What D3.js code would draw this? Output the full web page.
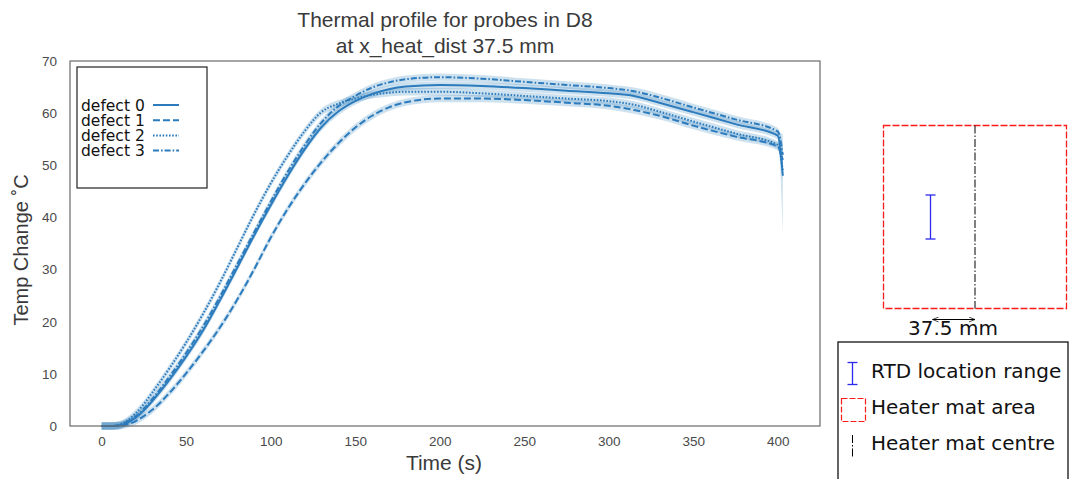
<!DOCTYPE html>
<html lang="en">
<head>
<meta charset="utf-8">
<title>Thermal profile</title>
<script src="https://d3js.org/d3.v7.min.js"></script>
<style>
  body { margin: 0; background: #fff; }
  svg { display: block; }
  .tick text { font-family: "Liberation Sans", Arial, sans-serif; font-size: 13.5px; fill: #4a4a4a; }
  .domain { display: none; }
  .tick line { display: none; }
  .dv { font-family: "DejaVu Sans", sans-serif; }
</style>
</head>
<body>
<div id="chart"></div>
<script>
// time points (s)
var times = [0,5,10,15,20,25,30,40,50,60,70,80,90,100,110,120,130,140,150,160,170,180,200,225,250,275,300,315,330,350,375,400,403];

// mean temperature change per defect
var defect0 = [0,0,0.1,0.6,1.6,3.0,4.8,8.8,13.3,18.3,24.1,30.2,36.4,42.3,47.9,53,57.3,60.3,62.3,63.7,64.6,65.1,65.4,65.2,64.8,64.3,63.8,63.3,62,60.2,57.9,55.7,48];
var defect1 = [0,0,0,0.3,0.9,1.9,3.1,6.3,10.1,14.3,18.9,24.1,29.9,36.1,41.6,46.4,50.6,54.2,57.2,59.5,61.1,62.1,62.8,62.8,62.5,62,61.4,60.6,59.5,57.6,55.5,53.6,51];
var defect2 = [0,0,0.2,1.0,2.4,4.2,6.4,11,16,21.5,27.5,34,40.5,46.5,51.8,56.5,60.2,61.8,62.8,63.5,63.9,64.1,64.1,63.8,63.3,62.8,62.3,61.6,60.3,58.4,56.1,53.9,49];
var defect3 = [0,0,0.1,0.8,1.8,3.3,5.2,9.4,14,19.1,24.8,30.9,37,43,48.7,53.8,58.2,61.3,63.3,64.9,65.9,66.5,66.9,66.6,66,65.4,64.8,64.2,63,61.1,58.8,56.5,52];

// confidence band: half width, and the band at the last sample
var bandHalf = 0.7;
var endLow  = [37, 49, 47, 50];
var endHigh = [56, 53, 51, 54];

var seriesNames = ["defect 0", "defect 1", "defect 2", "defect 3"];
var xTicks = [0, 50, 100, 150, 200, 250, 300, 350, 400];
var yTicks = [0, 10, 20, 30, 40, 50, 60, 70];

var W = 1070, H = 479;
var plot = {left: 70, right: 820, top: 61, bottom: 426};

var svg = d3.select("#chart").append("svg")
    .attr("width", W)
    .attr("height", H);

var x = d3.scaleLinear().domain([-18.7, 425]).range([plot.left, plot.right]);
var y = d3.scaleLinear().domain([0, 70]).range([plot.bottom, plot.top]);

var blue = "#2b7bbd";
var dashes = [null, "7,3", "1.6,1.6", "6,2,1.6,2"];

var allSeries = [defect0, defect1, defect2, defect3].map(function(vals, i) {
  return vals.map(function(v, j) {
    var last = j == vals.length - 1;
    return {
      t: times[j], v: v,
      lo: last ? endLow[i] : v - bandHalf,
      hi: last ? endHigh[i] : v + bandHalf
    };
  });
});

// bands
var area = d3.area()
    .x(function(d) { return x(d.t); })
    .y0(function(d) { return y(d.lo); })
    .y1(function(d) { return y(d.hi); })
    .curve(d3.curveMonotoneX);

svg.append("g").selectAll("path")
  .data(allSeries)
  .enter().append("path")
    .attr("d", area)
    .attr("fill", "#1f77b4")
    .attr("fill-opacity", 0.22);

// lines
var line = d3.line()
    .x(function(d) { return x(d.t); })
    .y(function(d) { return y(d.v); })
    .curve(d3.curveMonotoneX);

svg.append("g").selectAll("path")
  .data(allSeries)
  .enter().append("path")
    .attr("d", line)
    .attr("fill", "none")
    .attr("stroke", blue)
    .attr("stroke-width", 2)
    .attr("stroke-dasharray", function(d, i) { return dashes[i]; });

// frame
svg.append("rect")
    .attr("x", plot.left).attr("y", plot.top)
    .attr("width", plot.right - plot.left)
    .attr("height", plot.bottom - plot.top)
    .attr("fill", "none")
    .attr("stroke", "#6a6a6a")
    .attr("stroke-width", 1.2);

// axes
svg.append("g")
    .attr("transform", "translate(0," + plot.bottom + ")")
    .call(d3.axisBottom(x).tickValues(xTicks).tickSize(0).tickPadding(10));

svg.append("g")
    .attr("transform", "translate(" + plot.left + ",0)")
    .call(d3.axisLeft(y).tickValues(yTicks).tickSize(0).tickPadding(13));

// titles
var sans = "'Liberation Sans', Arial, sans-serif";
svg.append("text")
    .attr("x", 445).attr("y", 27)
    .attr("text-anchor", "middle")
    .style("font-family", sans).style("font-size", "21px").style("fill", "#3a3a3a")
    .text("Thermal profile for probes in D8");
svg.append("text")
    .attr("x", 445).attr("y", 53)
    .attr("text-anchor", "middle")
    .style("font-family", sans).style("font-size", "21px").style("fill", "#3a3a3a")
    .text("at x_heat_dist 37.5 mm");

svg.append("text")
    .attr("x", 444).attr("y", 470)
    .attr("text-anchor", "middle")
    .style("font-family", sans).style("font-size", "21px").style("fill", "#3a3a3a")
    .text("Time (s)");

svg.append("text")
    .attr("transform", "translate(28,250) rotate(-90)")
    .attr("text-anchor", "middle")
    .style("font-family", sans).style("font-size", "20px").style("fill", "#3a3a3a")
    .text("Temp Change \u02DAC");

// legend for the curves
var leg = svg.append("g");
leg.append("rect")
    .attr("x", 77).attr("y", 67)
    .attr("width", 130).attr("height", 121)
    .attr("fill", "#fff")
    .attr("stroke", "#222")
    .attr("stroke-width", 1.2);

seriesNames.forEach(function(name, i) {
  var cy = 105 + i * 15.2;
  leg.append("text")
      .attr("class", "dv")
      .attr("x", 81).attr("y", cy + 5.5)
      .style("font-size", "15.5px").style("fill", "#111")
      .text(name);
  leg.append("line")
      .attr("x1", 153).attr("x2", 179)
      .attr("y1", cy).attr("y2", cy)
      .attr("stroke", blue)
      .attr("stroke-width", 2)
      .attr("stroke-dasharray", dashes[i]);
});

// heater mat schematic (mm)
var matMm = 158, rtdMm = [60, 98], distMm = 37.5;
var mx = d3.scaleLinear().domain([0, matMm]).range([883.5, 1066.5]);
var my = d3.scaleLinear().domain([0, matMm]).range([125.5, 308.5]);
var centreMm = matMm / 2;

var red = "#ff1a1a", rtdBlue = "#2a2aee";

svg.append("rect")
    .attr("x", mx(0)).attr("y", my(0))
    .attr("width", mx(matMm) - mx(0)).attr("height", my(matMm) - my(0))
    .attr("fill", "none").attr("stroke", red)
    .attr("stroke-width", 1.3).attr("stroke-dasharray", "7,2");

svg.append("line")
    .attr("x1", mx(centreMm)).attr("x2", mx(centreMm))
    .attr("y1", my(0)).attr("y2", my(matMm))
    .attr("stroke", "#000").attr("stroke-width", 1)
    .attr("stroke-dasharray", "8,2,1.5,2");

function ibar(g, cx, y0, y1) {
  g.append("line").attr("x1", cx).attr("x2", cx).attr("y1", y0).attr("y2", y1)
      .attr("stroke", rtdBlue).attr("stroke-width", 1.3);
  [y0, y1].forEach(function(yy) {
    g.append("line").attr("x1", cx - 5).attr("x2", cx + 5).attr("y1", yy).attr("y2", yy)
        .attr("stroke", rtdBlue).attr("stroke-width", 1.3);
  });
}
var rtdX = Math.round(mx(centreMm - distMm) - 2) + 0.5;
ibar(svg, rtdX, my(rtdMm[0]), my(rtdMm[1]));

// arrow
var defs = svg.append("defs");
defs.append("marker")
    .attr("id", "ah").attr("viewBox", "0 0 10 10")
    .attr("refX", 10).attr("refY", 5)
    .attr("markerWidth", 8).attr("markerHeight", 6)
    .attr("orient", "auto-start-reverse")
  .append("path").attr("d", "M0,1 L10,5 L0,9").attr("fill", "none").attr("stroke", "#000").attr("stroke-width", 1.2);

svg.append("line")
    .attr("x1", mx(centreMm - distMm) + 1).attr("x2", mx(centreMm))
    .attr("y1", 319.5).attr("y2", 319.5)
    .attr("stroke", "#000").attr("stroke-width", 1)
    .attr("marker-start", "url(#ah)").attr("marker-end", "url(#ah)");

svg.append("text")
    .attr("class", "dv")
    .attr("x", 953).attr("y", 335)
    .attr("text-anchor", "middle")
    .style("font-size", "20px").style("fill", "#111")
    .text(distMm + " mm");

// schematic legend
var lg = svg.append("g");
lg.append("rect")
    .attr("x", 838).attr("y", 342)
    .attr("width", 230).attr("height", 160)
    .attr("fill", "#fff").attr("stroke", "#111").attr("stroke-width", 1.3);

ibar(lg, 852.5, 362.5, 384.5);
lg.append("rect")
    .attr("x", 841.5).attr("y", 398.5).attr("width", 24).attr("height", 23)
    .attr("fill", "none").attr("stroke", red).attr("stroke-width", 1.2)
    .attr("stroke-dasharray", "6,2");
lg.append("line")
    .attr("x1", 852.5).attr("x2", 852.5).attr("y1", 435).attr("y2", 458)
    .attr("stroke", "#000").attr("stroke-width", 1)
    .attr("stroke-dasharray", "8,2,1.5,2");

var legTexts = ["RTD location range", "Heater mat area", "Heater mat centre"];
legTexts.forEach(function(t, i) {
  lg.append("text")
      .attr("class", "dv")
      .attr("x", 871).attr("y", 378 + i * 36)
      .style("font-size", "20px").style("fill", "#111")
      .text(t);
});
</script>
</body>
</html>
